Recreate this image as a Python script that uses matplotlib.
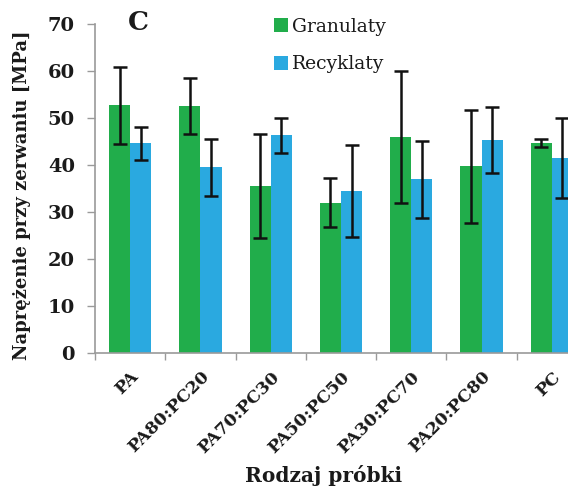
import matplotlib
matplotlib.use("Agg")
import matplotlib.pyplot as plt
import numpy as np

categories = ["PA", "PA80:PC20", "PA70:PC30", "PA50:PC50", "PA30:PC70", "PA20:PC80", "PC"]
granulaty = [52.7, 52.6, 35.5, 32.0, 46.0, 39.7, 44.7]
granulaty_err = [8.2, 6.0, 11.0, 5.2, 14.0, 12.0, 0.9]
recyklaty = [44.6, 39.5, 46.3, 34.5, 37.0, 45.3, 41.5]
recyklaty_err = [3.5, 6.0, 3.8, 9.8, 8.2, 7.0, 8.6]
yticks = [0, 10, 20, 30, 40, 50, 60, 70]

GREEN = "#21ad4b"
BLUE = "#2aa9e0"
AXIS_GREY = "#9a9a9a"
TEXT = "#1a1a1a"
serif = ["DejaVu Serif"]

fig = plt.figure(figsize=(5.68, 4.88), dpi=100)
W, H = 568, 488
ax = fig.add_axes([95 / W, (H - 353) / H, 492 / W, (353 - 24) / H])

x = np.arange(len(categories))
bw = 0.3
err_kw = dict(ecolor="#111111", elinewidth=1.8, capsize=4.7, capthick=1.8)
ax.bar(x - bw / 2, granulaty, bw, color=GREEN, yerr=granulaty_err,
       error_kw=err_kw, label="Granulaty", zorder=2)
ax.bar(x + bw / 2, recyklaty, bw, color=BLUE, yerr=recyklaty_err,
       error_kw=err_kw, label="Recyklaty", zorder=2)

ax.set_xlim(-0.5, len(categories) - 0.5)
ax.set_ylim(0, 70)
ax.set_yticks(yticks)
ax.set_yticklabels([str(v) for v in yticks], fontfamily=serif,
                   fontweight="bold", fontsize=14, color=TEXT)
ax.set_xticks(x)
ax.set_xticklabels(categories, rotation=45, ha="right", va="top",
                   rotation_mode="anchor", fontfamily=serif,
                   fontweight="bold", fontsize=12.5, color=TEXT)
ax.set_xticks(np.arange(-0.5, len(categories) + 0.5, 1), minor=True)
ax.tick_params(axis="x", which="major", length=0, pad=11)
ax.tick_params(axis="x", which="minor", length=5, color=AXIS_GREY, width=1)
ax.tick_params(axis="y", length=6, color=AXIS_GREY, width=1, pad=8.5)

for side in ("top", "right"):
    ax.spines[side].set_visible(False)
for side in ("left", "bottom"):
    ax.spines[side].set_color(AXIS_GREY)
    ax.spines[side].set_linewidth(1.2)

ax.set_ylabel("Naprężenie przy zerwaniu [MPa]", fontfamily=serif,
              fontweight="bold", fontsize=13, color=TEXT)
ax.yaxis.set_label_coords(-64 / 492, 0.48)

fig.text(324 / W, 1 - 475 / H, "Rodzaj próbki", fontfamily=serif,
         fontweight="bold", fontsize=14.5, ha="center", va="center",
         color=TEXT)
fig.text(138 / W, 1 - 23 / H, "C", fontfamily=serif, fontweight="bold",
         fontsize=19, ha="center", va="center", color=TEXT)

leg = ax.legend(loc="upper left", bbox_to_anchor=(266 / W, 1 - 10 / H),
                bbox_transform=fig.transFigure, frameon=False,
                prop={"family": serif, "size": 13.5},
                handlelength=0.75, handleheight=0.75, handletextpad=0.25,
                labelspacing=1.05, borderaxespad=0)
for t in leg.get_texts():
    t.set_color(TEXT)

fig.savefig("out.png", dpi=100)
